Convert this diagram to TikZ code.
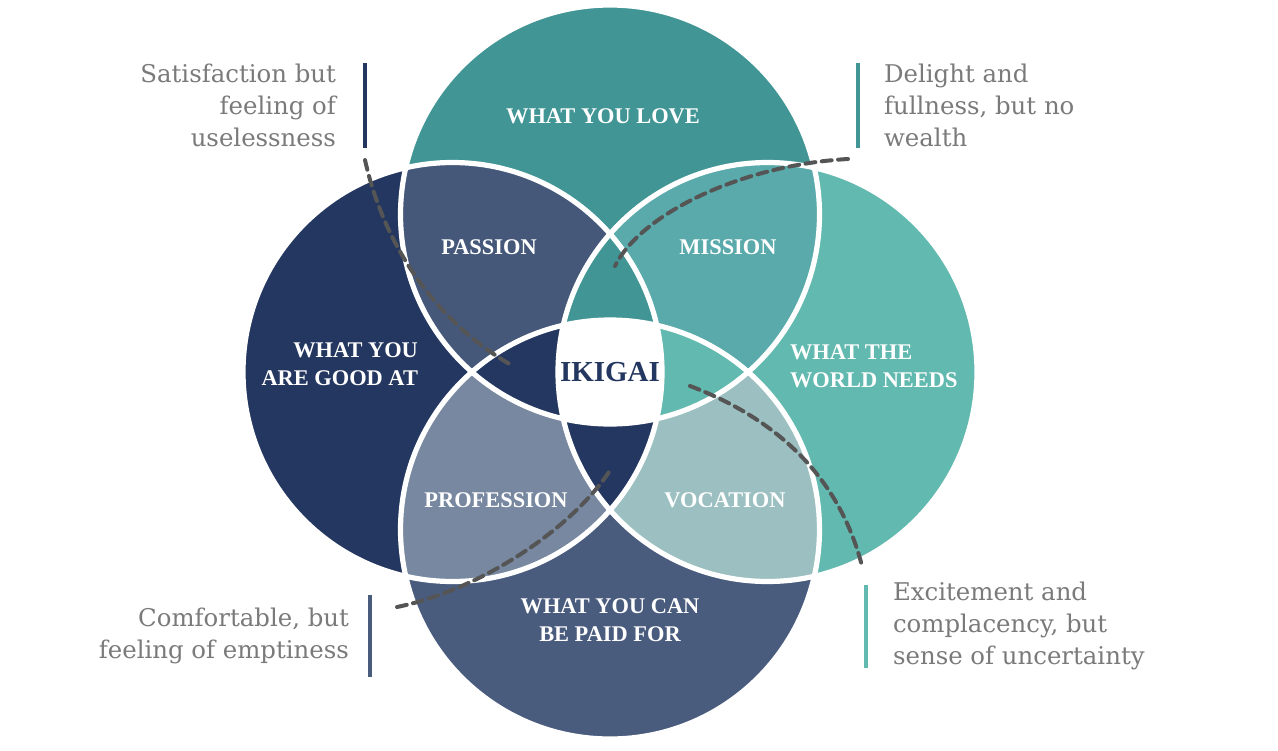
\documentclass[tikz,border=0pt]{standalone}
\usepackage{fontspec}
\setmainfont{DejaVu Serif}
\newfontfamily\labelfont{Liberation Serif}
\usetikzlibrary{positioning}
\definecolor{lovec}{HTML}{419595}
\definecolor{goodc}{HTML}{243760}
\definecolor{worldc}{HTML}{62B9AF}
\definecolor{paidc}{HTML}{4A5C7E}
\definecolor{passionc}{HTML}{46587A}
\definecolor{missionc}{HTML}{5AAAAB}
\definecolor{professionc}{HTML}{7888A0}
\definecolor{vocationc}{HTML}{9CC0C1}
\definecolor{notegray}{HTML}{7A7A7A}
\definecolor{trailgray}{HTML}{555555}
\newcommand{\ringr}{209.5}
\tikzset{
  ring/.style={draw=white, line width=2.6pt},
  zone/.style={font=\labelfont\fontsize{11.2}{14}\selectfont\bfseries, text=white},
  note/.style={font=\fontsize{12.2}{16}\selectfont, text=notegray},
  bar/.style={line width=2pt},
  trail/.style={draw=trailgray, line width=2pt, dash pattern=on 5pt off 3.2pt, line cap=round},
}

\begin{document}
\begin{tikzpicture}[x=0.5pt, y=-0.5pt]
  \useasboundingbox (0,0) rectangle (1278,750);
  % ---- circle centres ----
  \coordinate (love)  at (610,214.5);
  \coordinate (good)  at (452.5,372);
  \coordinate (world) at (767.5,372);
  \coordinate (paid)  at (610,529.5);

  % ---- single circles ----
  \fill[lovec]  (love)  circle (\ringr);
  \fill[goodc]  (good)  circle (\ringr);
  \fill[worldc] (world) circle (\ringr);
  \fill[paidc]  (paid)  circle (\ringr);

  % ---- pairs ----
  \begin{scope}\clip (love) circle (\ringr); \fill[passionc] (good) circle (\ringr);\end{scope}
  \begin{scope}\clip (love) circle (\ringr); \fill[missionc] (world) circle (\ringr);\end{scope}
  \begin{scope}\clip (paid) circle (\ringr); \fill[professionc] (good) circle (\ringr);\end{scope}
  \begin{scope}\clip (paid) circle (\ringr); \fill[vocationc] (world) circle (\ringr);\end{scope}

  % ---- triples ----
  \begin{scope}\clip (love) circle (\ringr); \clip (good) circle (\ringr); \fill[lovec] (world) circle (\ringr);\end{scope}
  \begin{scope}\clip (love) circle (\ringr); \clip (good) circle (\ringr); \fill[goodc] (paid) circle (\ringr);\end{scope}
  \begin{scope}\clip (love) circle (\ringr); \clip (world) circle (\ringr); \fill[worldc] (paid) circle (\ringr);\end{scope}
  \begin{scope}\clip (paid) circle (\ringr); \clip (good) circle (\ringr); \fill[goodc] (world) circle (\ringr);\end{scope}

  % ---- centre ----
  \begin{scope}
    \clip (love) circle (\ringr); \clip (good) circle (\ringr); \clip (world) circle (\ringr);
    \fill[white] (paid) circle (\ringr);
  \end{scope}

  % ---- white outlines ----
  \foreach \c in {love, good, world, paid}
    \draw[ring] (\c) circle (\ringr);

  % ---- labels ----
  \node[zone] (lovelbl) at (603,116) {WHAT YOU LOVE};
  \node[zone] (passion) at (489,247) {PASSION};
  \node[zone] (mission) at (728,247) {MISSION};
  \node[zone, align=right, anchor=east] (goodlbl) at (425,364) {WHAT YOU\\ARE GOOD AT};
  \node[zone, align=left, anchor=west] (worldlbl) at (783,366) {WHAT THE\\WORLD NEEDS};
  \node[zone, font=\labelfont\fontsize{14.5}{16}\selectfont\bfseries, text=goodc] (ikigai) at (610,372) {IKIGAI};
  \node[zone] (profession) at (496,500) {PROFESSION};
  \node[zone] (vocation) at (725,500) {VOCATION};
  \node[zone, align=center] (paidlbl) at (610,620) {WHAT YOU CAN\\BE PAID FOR};

  % ---- side notes ----
  \node[note, align=right, anchor=east] (useless) at (343,105) {Satisfaction but\\feeling of\\uselessness};
  \node[note, align=left, anchor=west] (wealth) at (877,105) {Delight and\\fullness, but no\\wealth};
  \node[note, align=right, anchor=east] (empty) at (356,636) {Comfortable, but\\feeling of emptiness};
  \node[note, align=left, anchor=west] (unsure) at (886,626) {Excitement and\\complacency, but\\sense of uncertainty};

  \draw[bar, goodc]  (365,63) -- (365,148);
  \draw[bar, lovec]  (858,63) -- (858,148);
  \draw[bar, paidc]  (370,595) -- (370,677);
  \draw[bar, worldc] (866,585) -- (866,668);

  % ---- dashed trails ----
  \coordinate (t1a) at (365,160);  \coordinate (t1b) at (513,366);
  \coordinate (t2a) at (848,159);  \coordinate (t2b) at (615,266);
  \coordinate (t3a) at (690,386);  \coordinate (t3b) at (862,566);
  \coordinate (t4a) at (397,607);  \coordinate (t4b) at (609,472);
  \draw[trail] (t1a) .. controls (385,250) and (440,325) .. (t1b);
  \draw[trail] (t2a) .. controls (740,165) and (640,215) .. (t2b);
  \draw[trail] (t3a) .. controls (780,420) and (840,480) .. (t3b);
  \draw[trail] (t4a) .. controls (480,590) and (570,530) .. (t4b);
\end{tikzpicture}
\end{document}
